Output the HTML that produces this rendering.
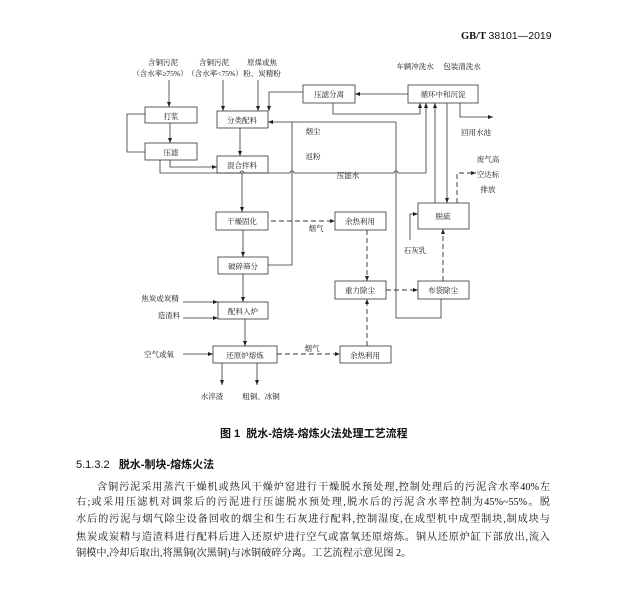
<!DOCTYPE html>
<html><head><meta charset="utf-8"><style>
html,body{margin:0;padding:0;background:#fff;}
body{width:620px;height:598px;position:relative;overflow:hidden;font-family:"Liberation Serif","Noto Serif CJK SC",serif;color:#111;}
.t{position:absolute;white-space:nowrap;}
.p{position:absolute;left:76px;width:474px;font-size:10.2px;line-height:16.5px;text-align:justify;text-align-last:justify;white-space:nowrap;font-family:"Liberation Serif","Noto Serif CJK SC",serif;}
</style></head><body>
<div class="t" style="left:461px;top:30px;font-size:10.5px;font-weight:bold;">GB/T <span style="font-family:'Liberation Sans',sans-serif;font-weight:normal">38101—2019</span></div>
<svg width="620" height="420" style="position:absolute;left:0;top:0" font-family="Liberation Serif, Noto Serif CJK SC, serif" font-size="7.5">
<defs><marker id="a" markerWidth="6" markerHeight="6" refX="5" refY="3" orient="auto" markerUnits="userSpaceOnUse"><path d="M0,1 L5,3 L0,5 Z" fill="#222"/></marker></defs>
<g fill="#fff" stroke="#333" stroke-width="0.8">
<rect x="145" y="107" width="52" height="16"/>
<rect x="145" y="143" width="52" height="17"/>
<rect x="217" y="111" width="51" height="17"/>
<rect x="217" y="156" width="51" height="17"/>
<rect x="303" y="85" width="52" height="18"/>
<rect x="408" y="85" width="70" height="18"/>
<rect x="216" y="212" width="52" height="18"/>
<rect x="335" y="212" width="51" height="18"/>
<rect x="418" y="203" width="51" height="26"/>
<rect x="218" y="257" width="50" height="17"/>
<rect x="335" y="281" width="51" height="18"/>
<rect x="418" y="281" width="51" height="18"/>
<rect x="218" y="302" width="50" height="17"/>
<rect x="213" y="346" width="64" height="17"/>
<rect x="340" y="346" width="51" height="17"/>
</g>
<g fill="none" stroke="#333" stroke-width="0.8">
<path d="M169 80 V107" marker-end="url(#a)"/>
<path d="M223 80 V111" marker-end="url(#a)"/>
<path d="M258 80 V111" marker-end="url(#a)"/>
<path d="M170 123 V143" marker-end="url(#a)"/>
<path d="M145 114 H127 V152 H145"/>
<path d="M170 160 V167 H217" marker-end="url(#a)"/>
<path d="M240 128 V156" marker-end="url(#a)"/>
<path d="M160 160 V173 H240 a2,2 0 0 1 4,0 H290 a2,2 0 0 1 4,0 H394 a2,2 0 0 1 4,0 H426 V103" marker-end="url(#a)"/>
<path d="M242 173 V212" marker-end="url(#a)"/>
<path d="M243 230 V257" marker-end="url(#a)"/>
<path d="M243 274 V302" marker-end="url(#a)"/>
<path d="M245 319 V346" marker-end="url(#a)"/>
<path d="M408 94 H355" marker-end="url(#a)"/>
<path d="M303 92 H269 V111" marker-end="url(#a)"/>
<path d="M333 103 V114 H420 V103" marker-end="url(#a)"/>
<path d="M435 203 V103" marker-end="url(#a)"/>
<path d="M447 103 V203" marker-end="url(#a)"/>
<path d="M460 103 V117 H493" marker-end="url(#a)"/>
<path d="M268 265 H292 V122"/>
<path d="M396 122 H268" marker-end="url(#a)"/>
<path d="M396 122 V318 H441 V299"/>
<path d="M410 240 V214 H418" marker-end="url(#a)"/>
<path d="M183 302 H218" marker-end="url(#a)"/>
<path d="M183 318 H218" marker-end="url(#a)"/>
<path d="M183 354 H213" marker-end="url(#a)"/>
<path d="M222 363 V385" marker-end="url(#a)"/>
<path d="M257 363 V385" marker-end="url(#a)"/>
</g>
<g fill="none" stroke="#333" stroke-width="0.9" stroke-dasharray="5,3">
<path d="M271 221 H335" marker-end="url(#a)"/>
<path d="M367 230 V281" marker-end="url(#a)"/>
<path d="M386 290 H418" marker-end="url(#a)"/>
<path d="M443 281 V229" marker-end="url(#a)"/>
<path d="M277 354 H340" marker-end="url(#a)"/>
<path d="M367 346 V299" marker-end="url(#a)"/>
<path d="M457 203 V173 H476" marker-end="url(#a)"/>
</g>
<g fill="#111" text-anchor="middle">
<text x="171" y="119">打浆</text>
<text x="171" y="155">压滤</text>
<text x="242" y="123">分类配料</text>
<text x="242" y="168">混合拌料</text>
<text x="329" y="97">压滤分离</text>
<text x="443" y="97">循环中和沉淀</text>
<text x="242" y="224">干燥固化</text>
<text x="360" y="224">余热利用</text>
<text x="443" y="219">脱硫</text>
<text x="243" y="269">破碎筛分</text>
<text x="360" y="293">重力除尘</text>
<text x="443" y="293">布袋除尘</text>
<text x="243" y="314">配料入炉</text>
<text x="245" y="358">还原炉熔炼</text>
<text x="365" y="358">余热利用</text>
<text x="163" y="65">含铜污泥</text>
<text x="160" y="76">（含水率≥75%）</text>
<text x="214" y="65">含铜污泥</text>
<text x="215" y="76">（含水率&lt;75%）</text>
<text x="262" y="65">原煤或焦</text>
<text x="262" y="76">粉、炭精粉</text>
<text x="415" y="69">车辆冲洗水</text>
<text x="462" y="69">包装清洗水</text>
<text x="476" y="135">回用水池</text>
<text x="313" y="134">烟尘</text>
<text x="313" y="159">返粉</text>
<text x="348" y="178">压滤水</text>
<text x="488" y="162">废气高</text>
<text x="488" y="177">空达标</text>
<text x="488" y="192">排放</text>
<text x="316" y="231">烟气</text>
<text x="415" y="253">石灰乳</text>
<text x="160" y="301">焦炭或炭精</text>
<text x="169" y="318">造渣料</text>
<text x="159" y="357">空气或氧</text>
<text x="312" y="351">烟气</text>
<text x="212" y="399">水淬渣</text>
<text x="261" y="399">粗铜、冰铜</text>
</g>
</svg>
<div class="t" style="left:220px;top:425px;font-size:11px;font-weight:bold;font-family:'Liberation Sans','Noto Sans CJK SC',sans-serif;">图 1&nbsp;&nbsp;脱水-焙烧-熔炼火法处理工艺流程</div>
<div class="t" style="left:76px;top:456px;font-size:11px;font-family:'Liberation Sans','Noto Sans CJK SC',sans-serif;">5.1.3.2&nbsp;&nbsp;&nbsp;<b>脱水-制块-熔炼火法</b></div>
<div class="p" style="top:480px;left:97px;width:453px;">含铜污泥采用蒸汽干燥机或热风干燥炉窑进行干燥脱水预处理,控制处理后的污泥含水率40%左</div>
<div class="p" style="top:495px;">右;或采用压滤机对调浆后的污泥进行压滤脱水预处理,脱水后的污泥含水率控制为45%~55%。脱</div>
<div class="p" style="top:512px;">水后的污泥与烟气除尘设备回收的烟尘和生石灰进行配料,控制湿度,在成型机中成型制块,制成块与</div>
<div class="p" style="top:530px;">焦炭或炭精与造渣料进行配料后进入还原炉进行空气或富氧还原熔炼。铜从还原炉缸下部放出,流入</div>
<div class="p" style="top:546px;text-align-last:left;">铜模中,冷却后取出,将黑铜(次黑铜)与冰铜破碎分离。工艺流程示意见图 2。</div>
</body></html>
